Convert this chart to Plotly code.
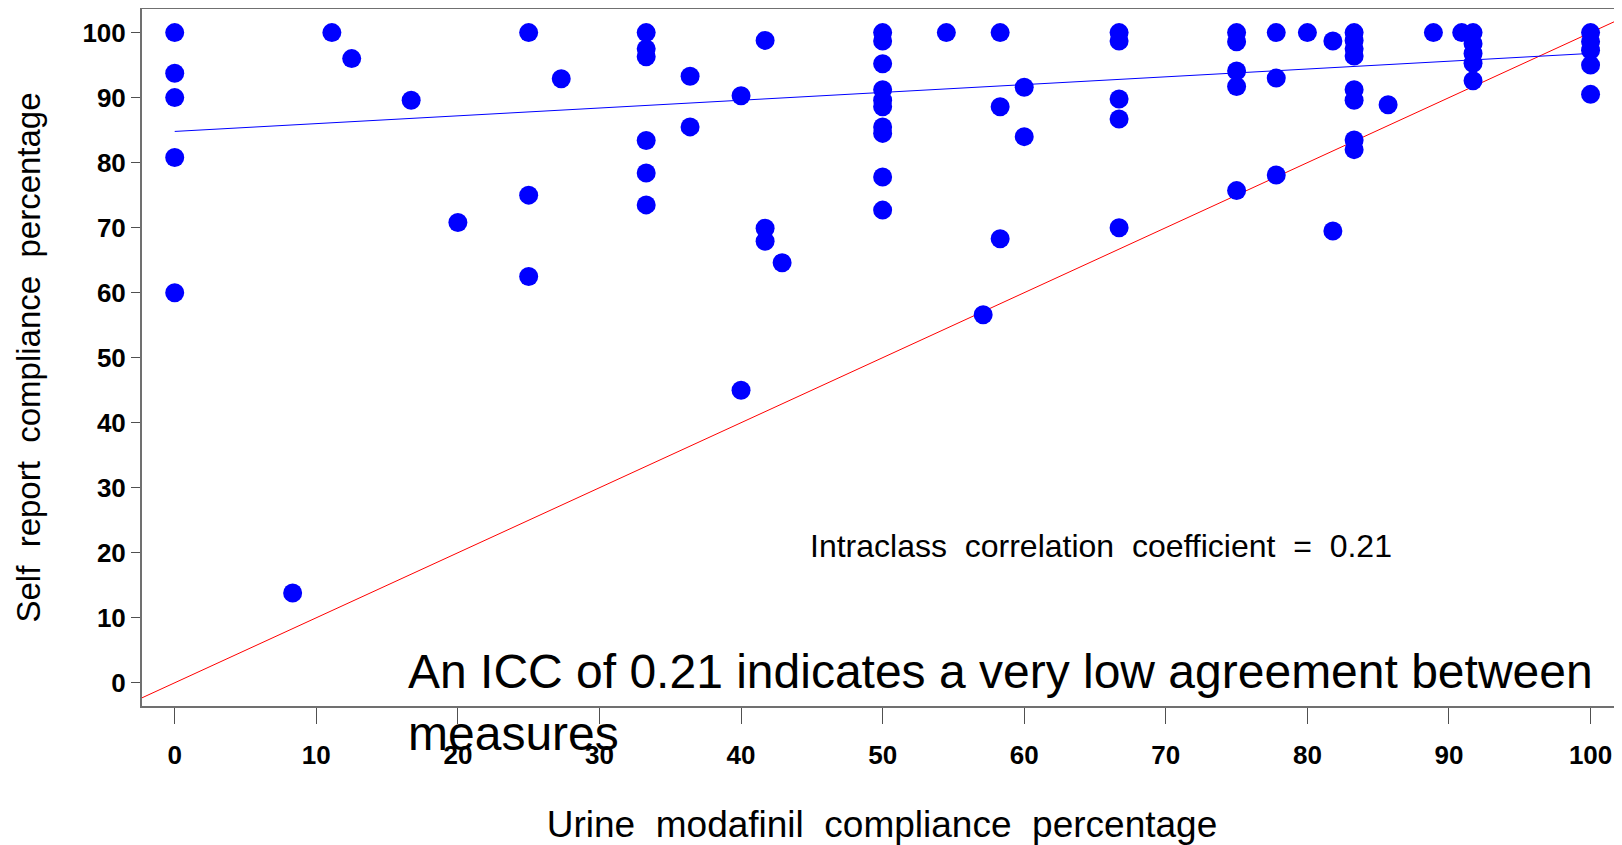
import plotly.graph_objects as go

# Urine modafinil compliance (%) and self-report compliance (%) per subject
urine_pct = [
    0, 0, 0, 0, 0,
    8.33, 11.1, 12.5, 16.7, 20,
    25, 25, 25, 27.3,
    33.3, 33.3, 33.3, 33.3, 33.3, 33.3,
    36.4, 36.4, 40, 40,
    41.7, 41.7, 41.7, 42.9,
    50, 50, 50, 50, 50, 50, 50, 50, 50, 50,
    54.5, 57.1, 58.3, 58.3, 58.3, 60, 60,
    66.7, 66.7, 66.7, 66.7, 66.7,
    75, 75, 75, 75, 75,
    77.8, 77.8, 77.8, 80, 81.8, 81.8,
    83.3, 83.3, 83.3, 83.3, 83.3, 83.3, 83.3, 83.3,
    85.7, 88.9, 90.9,
    91.7, 91.7, 91.7, 91.7, 91.7,
    100, 100, 100, 100, 100,
]
self_report_pct = [
    100, 93.75, 90, 80.8, 60,
    13.8, 100, 96, 89.6, 70.8,
    100, 75, 62.5, 92.9,
    100, 97.5, 96.3, 83.4, 78.4, 73.5,
    93.3, 85.5, 90.3, 45,
    98.8, 69.9, 67.9, 64.6,
    100, 98.7, 95.2, 91.2, 89.6, 88.6, 85.5, 84.5, 77.8, 72.7,
    100, 56.6, 100, 88.6, 68.3, 91.6, 84.0,
    100, 98.7, 89.8, 86.7, 70.0,
    100, 98.6, 94.1, 91.7, 75.7,
    100, 93.0, 78.1, 100, 98.7, 69.5,
    100, 98.8, 97.5, 96.4, 91.2, 89.6, 83.5, 82.0,
    88.9, 100, 100,
    100, 98.3, 96.8, 95.3, 92.6,
    100, 98.6, 97.3, 95.0, 90.5,
]

# Fitted regression line end points and identity line extent
fit_x = [0, 100]
fit_y = [84.8, 96.8]
identity_xy = [-5, 105]

x_ticks = [0, 10, 20, 30, 40, 50, 60, 70, 80, 90, 100]
y_ticks = [0, 10, 20, 30, 40, 50, 60, 70, 80, 90, 100]

SP = "\u00a0 "
icc_label = SP.join(["Intraclass", "correlation", "coefficient", "=", "0.21"])
note_text = "An ICC of 0.21 indicates a very low agreement between<br>measures"
x_title = SP.join(["Urine", "modafinil", "compliance", "percentage"])
y_title = SP.join(["Self", "report", "compliance", "percentage"])

FONT = "Liberation Sans, Arial, sans-serif"

fig = go.Figure()

fig.add_trace(go.Scatter(
    x=identity_xy, y=identity_xy, mode="lines",
    line=dict(color="#FF0000", width=1), showlegend=False, hoverinfo="skip",
))
fig.add_trace(go.Scatter(
    x=fit_x, y=fit_y, mode="lines",
    line=dict(color="#0000FF", width=1), showlegend=False, hoverinfo="skip",
))
fig.add_trace(go.Scatter(
    x=urine_pct, y=self_report_pct, mode="markers",
    marker=dict(color="#0000FF", size=19, symbol="circle", line=dict(width=0)),
    showlegend=False,
))

fig.add_annotation(
    x=65.4, y=21.0, xref="x", yref="y", text=icc_label, showarrow=False,
    font=dict(family=FONT, size=32, color="#000000"),
    xanchor="center", yanchor="middle",
)
fig.add_annotation(
    x=0.1787, y=0.090, xref="paper", yref="paper", text=note_text, showarrow=False,
    font=dict(family=FONT, size=48, color="#000000"),
    xanchor="left", yanchor="top", align="left",
)

# page body adds an 8px offset, so the figure is sized to the remaining window
fig.update_layout(
    width=1614, height=837,
    margin=dict(l=134, r=0, t=1, b=139),
    paper_bgcolor="white", plot_bgcolor="white",
    font=dict(family=FONT, color="#000000"),
    xaxis=dict(
        range=[-2.31, 102.22], tickvals=x_ticks, ticktext=[str(v) for v in x_ticks],
        automargin=False,
        showgrid=False, zeroline=False,
        showline=True, linecolor="#707070", linewidth=2, mirror=True,
        ticks="outside", ticklen=16, tickcolor="#505050", tickwidth=1,
        ticklabelstandoff=9,
        tickfont=dict(family=FONT, size=26, weight="bold", color="#000000"),
        title=dict(text=x_title,
                   font=dict(family=FONT, size=37, color="#000000"), standoff=42),
    ),
    yaxis=dict(
        range=[-3.57, 103.63], tickvals=y_ticks, ticktext=[str(v) for v in y_ticks],
        automargin=False,
        showgrid=False, zeroline=False,
        showline=True, linecolor="#707070", linewidth=2, mirror=False,
        ticks="outside", ticklen=9, tickcolor="#505050", tickwidth=1,
        tickfont=dict(family=FONT, size=26, weight="bold", color="#000000"),
        title=dict(text=y_title,
                   font=dict(family=FONT, size=33, color="#000000"), standoff=32),
    ),
)

fig.write_html("out.html")
